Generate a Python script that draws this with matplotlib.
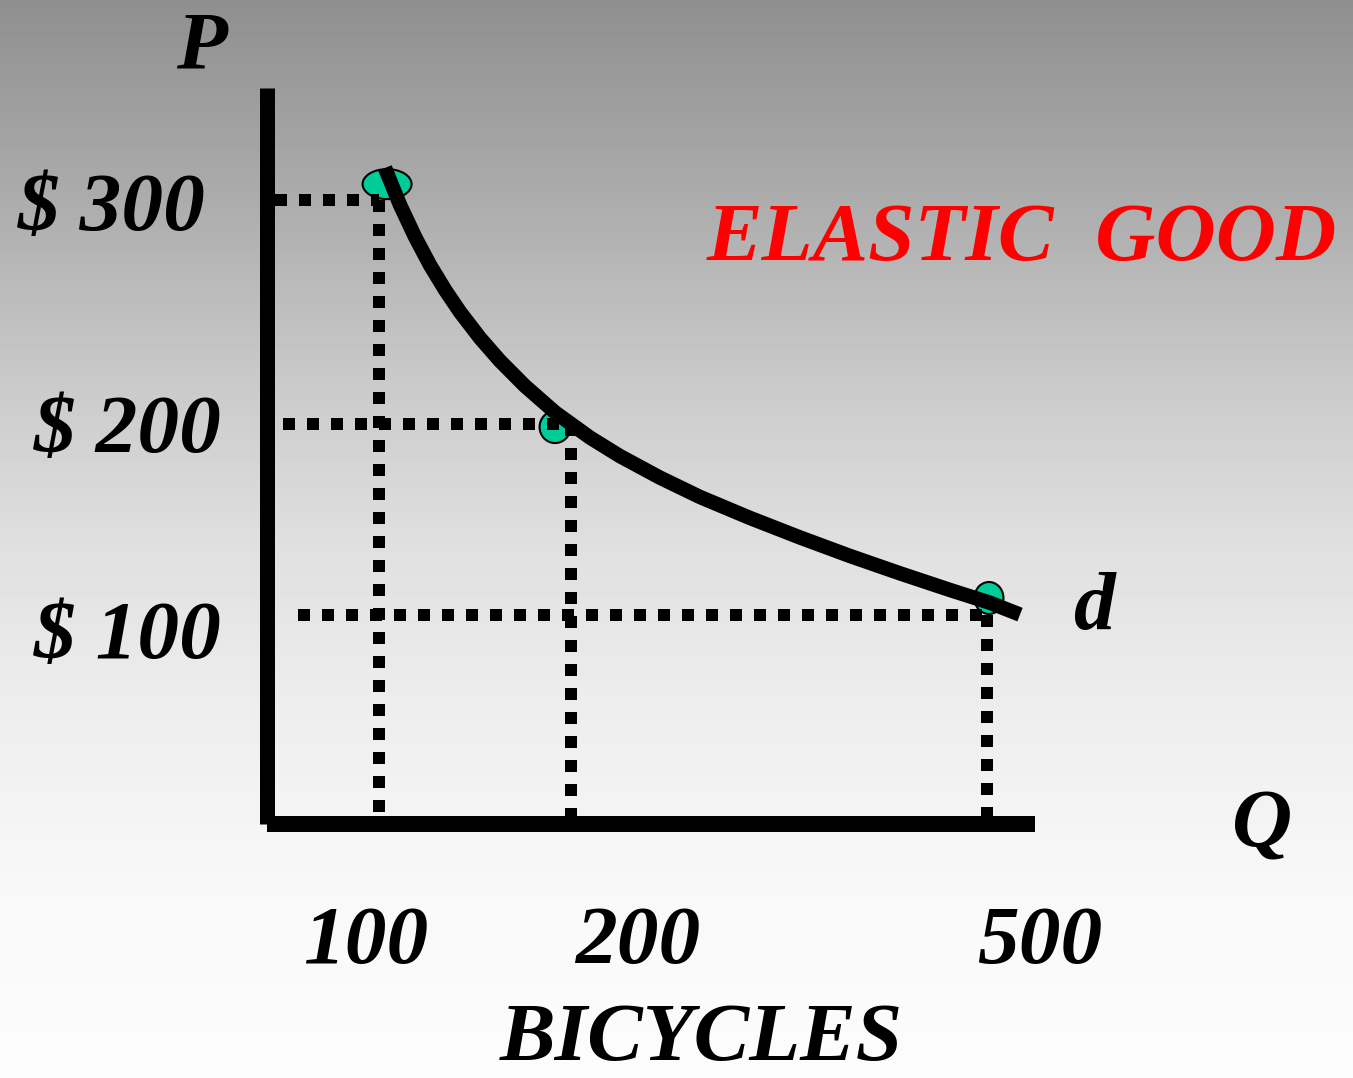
import numpy as np
import matplotlib
matplotlib.use("Agg")
import matplotlib.pyplot as plt
from matplotlib.patches import Ellipse
from matplotlib.transforms import ScaledTranslation

# ---------------- data ----------------
quantities = [100, 200, 500]
prices = [300, 200, 100]
q_labels = ["100", "200", "500"]
p_labels = ["$ 300", "$ 200", "$ 100"]
guide_start_q = [7, 14, 28]

curve_q = [103.1, 110.9, 118.8, 126.6, 134.4, 142.2, 152.6, 163.0, 176.0,
           191.7, 213.7, 235.3, 264.2, 293.0, 329.1, 365.1, 401.2, 437.3,
           473.3, 502.2, 523.8]
curve_p = [314.3, 297.9, 283.5, 270.9, 259.9, 250.0, 238.4, 228.2, 217.0,
           205.2, 192.9, 183.2, 171.9, 161.8, 150.8, 140.6, 130.9, 121.8,
           113.1, 106.4, 100.2]

dot_q = [104.2, 191.7, 501.4]
dot_p = [307.1, 198.4, 108.9]

title = "ELASTIC  GOOD"
curve_label = "d"
p_axis_label = "P"
q_axis_label = "Q"
x_title = "BICYCLES"

# ---------------- layout ----------------
W, H = 1353, 1078
DPI = 100
PT = 72.0 / DPI  # points per pixel

# piecewise-linear scale anchors (value -> pixel)
Q_ANCH = [0, 100, 200, 500]
X_PIX = [267, 379, 571, 987]
P_ANCH = [0, 100, 200, 300]
Y_PIX = [H - 824, H - 615, H - 424, H - 200]


def make_pl(src, dst):
    src = np.asarray(src, float)
    dst = np.asarray(dst, float)

    def f(v):
        v = np.asarray(v, float)
        out = np.interp(v, src, dst)
        lo_slope = (dst[1] - dst[0]) / (src[1] - src[0])
        hi_slope = (dst[-1] - dst[-2]) / (src[-1] - src[-2])
        out = np.where(v < src[0], dst[0] + (v - src[0]) * lo_slope, out)
        out = np.where(v > src[-1], dst[-1] + (v - src[-1]) * hi_slope, out)
        return out
    return f


fx, fx_inv = make_pl(Q_ANCH, X_PIX), make_pl(X_PIX, Q_ANCH)
fy, fy_inv = make_pl(P_ANCH, Y_PIX), make_pl(Y_PIX, P_ANCH)

fig = plt.figure(figsize=(W / DPI, H / DPI), dpi=DPI)

# background gradient
bg = fig.add_axes([0, 0, 1, 1], zorder=0)
rows = np.arange(H)
stops_y = [0, 200, 370, 550, 690, 890, 1078]
stops_v = [143, 172, 200, 224, 236, 248, 252]
vals = np.interp(rows, stops_y, stops_v) / 255.0
img = np.repeat(vals[:, None], 8, axis=1)
bg.imshow(img, cmap="gray", vmin=0, vmax=1, aspect="auto",
          extent=(0, 1, 0, 1), origin="upper", interpolation="nearest")
bg.axis("off")

ax = fig.add_axes([0, 0, 1, 1], zorder=1)
ax.patch.set_alpha(0)
ax.set_xscale("function", functions=(fx, fx_inv))
ax.set_yscale("function", functions=(fy, fy_inv))
ax.set_xlim(float(fx_inv(0)), float(fx_inv(W)))
ax.set_ylim(float(fy_inv(0)), float(fy_inv(H)))
ax.axis("off")

# axes lines
p_top = float(fy_inv(H - 88))
q_end = float(fx_inv(1035))
ax.plot([0, 0], [0, p_top], color="black", lw=15 * PT,
        solid_capstyle="butt", zorder=5)
ax.plot([0, q_end], [0, 0], color="black", lw=16 * PT,
        solid_capstyle="butt", zorder=5)

# dotted guide lines
dash_kw = dict(color="black", lw=12 * PT, linestyle=(0, (1, 1)),
               dash_capstyle="butt", zorder=3)
for q, p, qs in zip(quantities, prices, guide_start_q):
    ax.plot([qs, q], [p, p], **dash_kw)
    ax.plot([q, q], [p, 0], **dash_kw)

# dots
dot_sizes_px = [(49, 30), (31, 32), (29, 32)]
for q, p, (w, h) in zip(dot_q, dot_p, dot_sizes_px):
    tr = fig.dpi_scale_trans + ScaledTranslation(q, p, ax.transData)
    e = Ellipse((0, 0), w / DPI, h / DPI, transform=tr,
                facecolor="#00CC99", edgecolor="black", lw=1.5, zorder=2)
    ax.add_patch(e)

# demand curve
ax.plot(curve_q, curve_p, color="black", lw=14.5 * PT,
        solid_capstyle="butt", solid_joinstyle="round", zorder=4)

# texts
font = dict(fontfamily="Liberation Serif", fontweight="bold",
            fontstyle="italic", fontsize=60, ha="center", va="baseline")


def put(x, y, s, color="black"):
    fig.text(x / W, 1 - y / H, s, color=color, **font)


put(201, 68, p_axis_label)
for s, (x, y) in zip(p_labels, [(112, 230), (128, 452), (128, 658)]):
    put(x, y, s)
for s, x in zip(q_labels, [366, 638, 1040]):
    put(x, 963, s)
put(1022, 260, title, color="#FF0000")
put(1094, 629, curve_label)
put(1262, 847, q_axis_label)
put(701, 1060, x_title)

fig.savefig("out.png", dpi=DPI)
